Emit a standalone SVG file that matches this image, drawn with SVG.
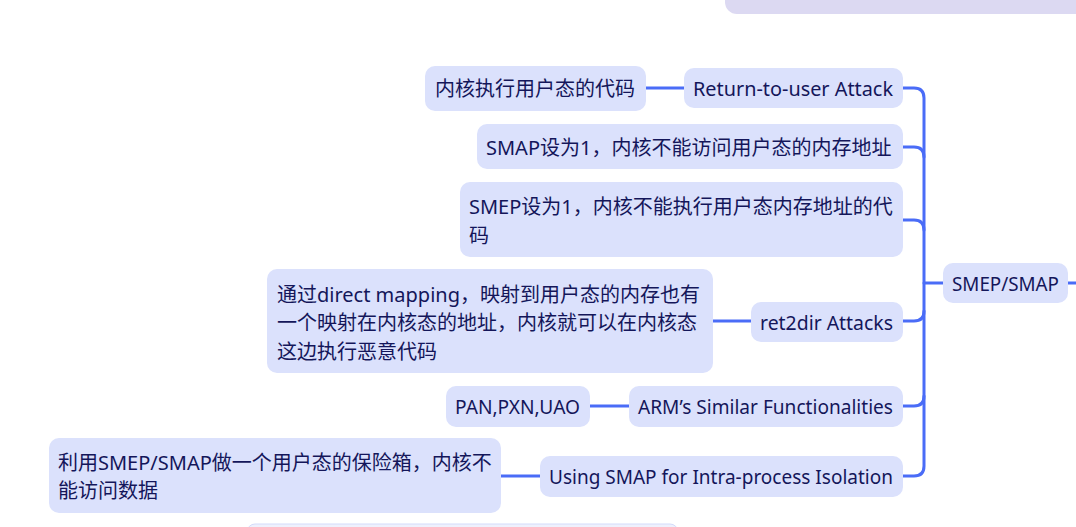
<svg xmlns="http://www.w3.org/2000/svg" width="1076" height="527" viewBox="0 0 1076 527">
<style>
.n{fill:#dbe1fc}
.t{font-family:"Noto Sans","Noto Sans CJK SC",sans-serif;font-size:20px;fill:#14165a;dominant-baseline:central}
.c{fill:none;stroke:#4a6cf7;stroke-width:3;stroke-linecap:round}
</style>
<rect width="1076" height="527" fill="#ffffff"/>
<g id="partial-top"><rect x="725" y="-30" width="400" height="44" rx="12" fill="#dcd9f2"/></g>
<g id="partial-bottom"><rect x="247" y="524" width="431" height="30" rx="8" fill="#eef1fd" stroke="#d3dbfa" stroke-width="1"/></g>
<g id="connectors">
<path class="c" d="M903,88 H914 Q924,88 924,98 V466 Q924,476 914,476 H903"/>
<path class="c" d="M903,147 H914 Q924,147 924,157"/>
<path class="c" d="M903,220 H914 Q924,220 924,230"/>
<path class="c" d="M903,321 H914 Q924,321 924,311"/>
<path class="c" d="M903,406 H914 Q924,406 924,396"/>
<path class="c" d="M924,283 H943"/>
<path class="c" d="M1068,283 H1078"/>
<path class="c" d="M646,88 H684"/>
<path class="c" d="M713,321 H751"/>
<path class="c" d="M590,406 H629"/>
<path class="c" d="M501,476 H540"/>
</g>
<g id="n-smep-smap"><rect class="n" x="943" y="263" width="125" height="40" rx="10"/><text class="t" x="952" y="283" textLength="107" lengthAdjust="spacingAndGlyphs">SMEP/SMAP</text></g>
<g id="n-ret2user"><rect class="n" x="684" y="68" width="219" height="40" rx="10"/><text class="t" x="693" y="88" textLength="200" lengthAdjust="spacingAndGlyphs">Return-to-user Attack</text></g>
<g id="n-ret2user-desc"><rect class="n" x="425" y="66" width="221" height="45" rx="10"/><text class="t" x="435" y="88">内核执行用户态的代码</text></g>
<g id="n-smap1"><rect class="n" x="477" y="124" width="426" height="45" rx="10"/><text class="t" x="486" y="147">SMAP设为1，内核不能访问用户态的内存地址</text></g>
<g id="n-smep1"><rect class="n" x="460" y="182" width="443" height="75" rx="10"/><text class="t" x="469" y="206">SMEP设为1，内核不能执行用户态内存地址的代</text><text class="t" x="469" y="235">码</text></g>
<g id="n-ret2dir"><rect class="n" x="751" y="302" width="152" height="40" rx="10"/><text class="t" x="760" y="322" textLength="133" lengthAdjust="spacingAndGlyphs">ret2dir Attacks</text></g>
<g id="n-ret2dir-desc"><rect class="n" x="267" y="269" width="446" height="104" rx="10"/><text class="t" x="277" y="294">通过direct mapping，映射到用户态的内存也有</text><text class="t" x="277" y="322">一个映射在内核态的地址，内核就可以在内核态</text><text class="t" x="277" y="351">这边执行恶意代码</text></g>
<g id="n-arm"><rect class="n" x="629" y="386" width="274" height="41" rx="10"/><text class="t" x="638" y="406" textLength="255" lengthAdjust="spacingAndGlyphs">ARM’s Similar Functionalities</text></g>
<g id="n-pan"><rect class="n" x="446" y="386" width="144" height="41" rx="10"/><text class="t" x="455" y="406" textLength="125" lengthAdjust="spacingAndGlyphs">PAN,PXN,UAO</text></g>
<g id="n-intra"><rect class="n" x="540" y="456" width="363" height="41" rx="10"/><text class="t" x="549" y="476" textLength="344" lengthAdjust="spacingAndGlyphs">Using SMAP for Intra-process Isolation</text></g>
<g id="n-intra-desc"><rect class="n" x="49" y="438" width="452" height="75" rx="10"/><text class="t" x="58" y="462">利用SMEP/SMAP做一个用户态的保险箱，内核不</text><text class="t" x="58" y="490">能访问数据</text></g>
</svg>
